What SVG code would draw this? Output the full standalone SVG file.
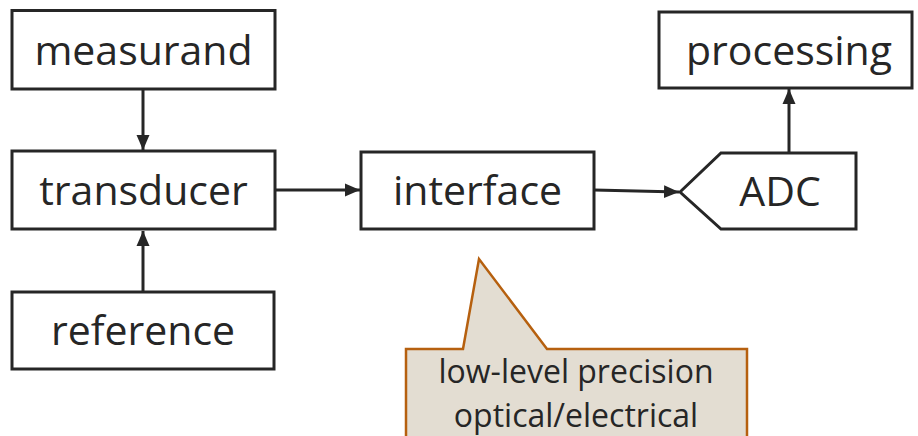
<svg xmlns="http://www.w3.org/2000/svg" width="918" height="436" viewBox="0 0 918 436">
  <defs>
    <style>
      .box { fill: #ffffff; stroke: #262626; stroke-width: 3; }
      .lbl { font-family: "Open Sans", "Noto Sans", sans-serif; font-size: 41px; fill: #262626; text-anchor: middle; }
      .conn { fill: none; stroke: #262626; stroke-width: 3; }
      .call { fill: #e3ddd2; stroke: #b6600f; stroke-width: 2.5; }
      .clbl { font-family: "Open Sans", "Noto Sans", sans-serif; font-size: 32px; fill: #262626; text-anchor: middle; }
    </style>
    <marker id="arrow" markerUnits="userSpaceOnUse" markerWidth="16" markerHeight="16" viewBox="0 0 16 16" refX="15" refY="8" orient="auto">
      <path d="M0,1.5 L15,8 L0,14.5 Z" fill="#262626"/>
    </marker>
  </defs>

  <g id="connectors">
    <line class="conn" x1="143" y1="89" x2="143" y2="150" marker-end="url(#arrow)"/>
    <line class="conn" x1="143" y1="292" x2="143" y2="231" marker-end="url(#arrow)"/>
    <line class="conn" x1="275" y1="190" x2="360" y2="190" marker-end="url(#arrow)"/>
    <line class="conn" x1="594" y1="190" x2="679" y2="192" marker-end="url(#arrow)"/>
    <line class="conn" x1="789" y1="153" x2="789" y2="89" marker-end="url(#arrow)"/>
  </g>

  <g id="measurand">
    <rect class="box" x="12" y="10.5" width="263" height="78.5"/>
    <text class="lbl" x="143.5" y="65">measurand</text>
  </g>

  <g id="transducer">
    <rect class="box" x="12" y="151" width="263" height="78"/>
    <text class="lbl" x="143.5" y="205">transducer</text>
  </g>

  <g id="reference">
    <rect class="box" x="12" y="292" width="262" height="77"/>
    <text class="lbl" x="143" y="345">reference</text>
  </g>

  <g id="interface">
    <rect class="box" x="361" y="152" width="233" height="77"/>
    <text class="lbl" x="477.5" y="205">interface</text>
  </g>

  <g id="adc">
    <path class="box" d="M680,192 L721,153 L856,153 L856,229 L721,229 Z"/>
    <text class="lbl" x="780" y="206">ADC</text>
  </g>

  <g id="processing">
    <rect class="box" x="659" y="12" width="253" height="76"/>
    <text class="lbl" x="789" y="65">processing</text>
  </g>

  <g id="callout">
    <path class="call" d="M406,349 L463,349 L479,259 L547,349 L747,349 L747,440 L406,440 Z"/>
    <text class="clbl" x="576" y="383">low-level precision</text>
    <text class="clbl" x="576" y="427">optical/electrical</text>
  </g>
</svg>
